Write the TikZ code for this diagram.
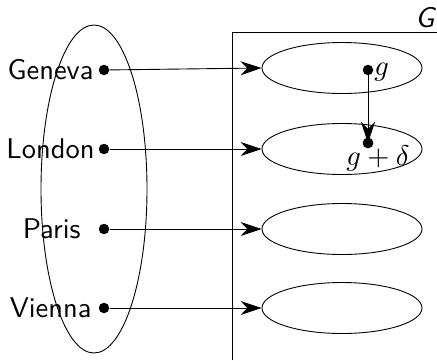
\documentclass[tikz,border=0pt]{standalone}
\usepackage{graphicx}
\usetikzlibrary{shapes.geometric,arrows.meta}
\newcommand{\bigtxt}[1]{\scalebox{2.85}{#1}}
\begin{document}
\begin{tikzpicture}[x=1pt,y=-1pt,
  line width=0.9pt,
  pt/.style={circle,fill=black,inner sep=0pt,minimum size=10.5pt},
  setel/.style={ellipse,draw,inner sep=0pt,minimum width=160pt,minimum height=51pt},
  city/.style={anchor=east,inner sep=0pt,font=\sffamily},
  mathlbl/.style={inner sep=0pt},
  map/.style={-{Stealth[length=21pt,width=14pt]}}]
\useasboundingbox (0,0) rectangle (437,360);

% domain set
\node[ellipse,draw,inner sep=0pt,minimum width=106pt,minimum height=328pt] (S) at (94,189) {};

% codomain frame
\coordinate (fb) at (232,360);
\coordinate (fc) at (232,32);
\coordinate (fr) at (437,32);
\draw (fb) -- (fc) -- (fr);
\node[inner sep=0pt,font=\sffamily\itshape] (Glbl) at (425,18) {\bigtxt{G}};

% fibres
\node[setel] (e1) at (342,68) {};
\node[setel] (e2) at (342,149) {};
\node[setel] (e3) at (342,229) {};
\node[setel] (e4) at (342,308) {};

% points of the domain
\node[pt] (gen) at (104,70) {};
\node[pt] (lon) at (104,149) {};
\node[pt] (par) at (104,229) {};
\node[pt] (vie) at (104,308) {};

\node[city] (tgen) at (94,70) {\bigtxt{Geneva}};
\node[city] (tlon) at (95,149) {\bigtxt{London}};
\node[city] (tpar) at (81,229) {\bigtxt{Paris}};
\node[city] (tvie) at (92,308) {\bigtxt{Vienna}};

% mappings
\draw[map] (gen) -- (e1.west);
\draw[map] (lon) -- (e2.west);
\draw[map] (par) -- (e3.west);
\draw[map] (vie) -- (e4.west);

% perturbation inside the fibres
\node[pt] (g1) at (368,70) {};
\node[pt] (g2) at (368,143) {};
\draw[map] (g1.center) -- (g2.center);
\node[pt] at (g2) {};
\node[mathlbl,anchor=west] (lg1) at (374,72) {\bigtxt{$g$}};
\node[mathlbl] (lg2) at (378,158) {\bigtxt{$g+\delta$}};
\end{tikzpicture}
\end{document}
